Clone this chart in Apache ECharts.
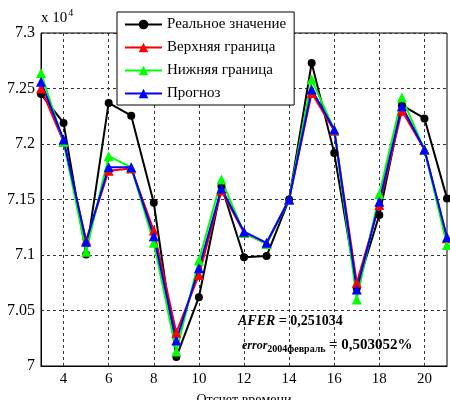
<!DOCTYPE html>
<html>
<head>
<meta charset="utf-8">
<script src="https://cdn.jsdelivr.net/npm/echarts@6/dist/echarts.min.js"></script>
<style>
  html, body { margin: 0; padding: 0; background: #fff; }
  #chart { width: 450px; height: 400px; }
</style>
</head>
<body>
<div id="chart"></div>
<script>
// отсчеты времени
var steps = [3, 4, 5, 6, 7, 8, 9, 10, 11, 12, 13, 14, 15, 16, 17, 18, 19, 20, 21];
var realValues = [72450, 72190, 71005, 72370, 72255, 71470, 70080, 70620, 71620, 70980, 70990, 71500, 72730, 71920, 70700, 71360, 72350, 72230, 71510];
var upperValues = [72500, 72020, 71130, 71760, 71780, 71220, 70300, 70820, 71580, 71200, 71100, 71500, 72460, 72120, 70750, 71450, 72300, 71950, 71150];
var lowerValues = [72640, 72020, 71030, 71890, 71790, 71110, 70130, 70950, 71680, 71200, 71100, 71500, 72580, 72130, 70600, 71550, 72420, 71950, 71090];
var forecastValues = [72560, 72040, 71120, 71790, 71790, 71170, 70230, 70880, 71600, 71210, 71110, 71500, 72490, 72130, 70690, 71480, 72340, 71950, 71160];
var seriesNames = ['Реальное значение', 'Верхняя граница', 'Нижняя граница', 'Прогноз'];

function pairs(vals) {
    var out = [];
    for (var i = 0; i < steps.length; i++) out.push([steps[i], vals[i]]);
    return out;
}

var font = '"Liberation Serif", "DejaVu Serif", serif';
var myChart = echarts.init(document.getElementById('chart'));

function lineSeries(name, vals, color, symbol, size) {
    return {
        name: name,
        type: 'line',
        data: pairs(vals),
        symbol: symbol,
        symbolSize: size,
        lineStyle: { color: color, width: 2 },
        itemStyle: { color: color },
        animation: false
    };
}

var option = {
    animation: false,
    grid: {
        left: 41, right: 3, top: 33, bottom: 34,
        outerBoundsMode: 'none',
        containLabel: false,
        show: true, borderColor: '#000', borderWidth: 1, backgroundColor: '#fff'
    },
    legend: {
        orient: 'vertical',
        left: 117, top: 12,
        padding: [5, 8, 4, 7],
        itemWidth: 37, itemHeight: 12, itemGap: 8,
        backgroundColor: '#fff',
        borderColor: '#000', borderWidth: 1,
        borderRadius: 0,
        textStyle: { fontFamily: font, fontSize: 15, color: '#000' },
        data: seriesNames
    },
    xAxis: {
        type: 'value',
        min: 3, max: 21, interval: 1,
        name: 'Отсчет времени',
        nameLocation: 'middle',
        nameGap: 27,
        nameTextStyle: { fontFamily: font, fontSize: 14, color: '#000' },
        axisLine: { show: true, lineStyle: { color: '#000' } },
        axisTick: { show: false },
        axisLabel: {
            fontFamily: font, fontSize: 15, color: '#000', margin: 6,
            formatter: function (v) { return v % 2 === 0 ? String(v) : ''; }
        },
        splitLine: {
            show: true,
            lineStyle: { color: ['rgba(0,0,0,0)', '#333'], type: [3, 3], width: 1 }
        }
    },
    yAxis: {
        type: 'value',
        min: 70000, max: 73000, interval: 500,
        axisLine: { show: true, lineStyle: { color: '#000' } },
        axisTick: { show: false },
        axisLabel: {
            fontFamily: font, fontSize: 16, color: '#000', margin: 6,
            formatter: function (v) { return String(+(v / 10000).toFixed(2)); }
        },
        splitLine: {
            show: true,
            lineStyle: { color: '#333', type: [3, 3], width: 1 }
        }
    },
    graphic: [
        {
            type: 'text', left: 41, top: 8,
            style: {
                text: '{a|x 10}{b|4}',
                rich: {
                    a: { fontFamily: font, fontSize: 15, fill: '#000', verticalAlign: 'bottom' },
                    b: { fontFamily: font, fontSize: 10, fill: '#000', verticalAlign: 'top', padding: [0, 0, 8, 1] }
                }
            }
        },
        {
            type: 'text', left: 238, top: 314,
            style: {
                text: '{i|AFER} {b|= 0,251034}',
                rich: {
                    i: { fontFamily: font, fontSize: 14, fontWeight: 'bold', fontStyle: 'italic', fill: '#000' },
                    b: { fontFamily: font, fontSize: 14, fontWeight: 'bold', fill: '#000' }
                }
            }
        },
        {
            type: 'text', left: 242, top: 338,
            style: {
                text: '{i|error}{s|2004февраль} {b|= 0,503052%}',
                rich: {
                    i: { fontFamily: font, fontSize: 12, fontWeight: 'bold', fontStyle: 'italic', fill: '#000', height: 16 },
                    s: { fontFamily: font, fontSize: 10, fontWeight: 'bold', fill: '#000', height: 16, padding: [8, 0, 0, 0] },
                    b: { fontFamily: font, fontSize: 15, fontWeight: 'bold', fill: '#000', height: 16 }
                }
            }
        }
    ],
    series: [
        lineSeries(seriesNames[0], realValues, '#000000', 'circle', 8),
        lineSeries(seriesNames[1], upperValues, '#ff0000', 'triangle', 10),
        lineSeries(seriesNames[2], lowerValues, '#00ff00', 'triangle', 10),
        lineSeries(seriesNames[3], forecastValues, '#0000ff', 'triangle', 10)
    ]
};

myChart.setOption(option);
</script>
</body>
</html>
